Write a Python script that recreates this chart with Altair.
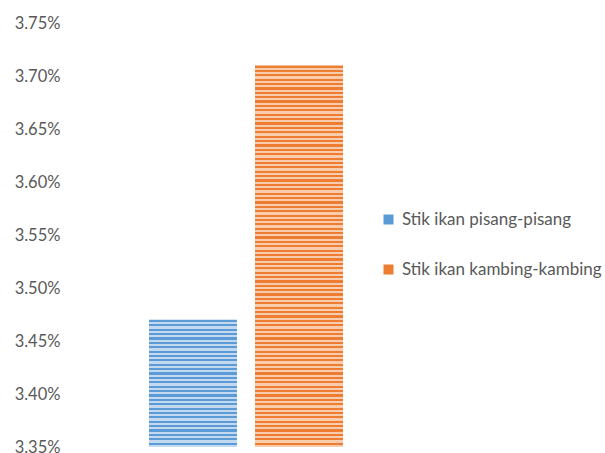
import altair as alt
import pandas as pd

series = ["Stik ikan pisang-pisang", "Stik ikan kambing-kambing"]
values = [0.0347, 0.0371]
colors = ["#5B9BD5", "#ED7D31"]
lights = ["#C3D9F0", "#F9CCAE"]
y_ticks = [0.0335, 0.0340, 0.0345, 0.0350, 0.0355, 0.0360, 0.0365, 0.0370, 0.0375]

df = pd.DataFrame({"series": series, "value": values})

Y_MIN, Y_MAX = 0.0335, 0.0375
PLOT_H = 424
PERIOD_PX = 4.4


def stripes(dark, light, value):
    h = (value - Y_MIN) / (Y_MAX - Y_MIN) * PLOT_H
    n = max(1, round(h / PERIOD_PX))
    stops = []
    for i in range(n):
        a = i / n
        m = (i + 0.5) / n
        b = (i + 1) / n
        stops += [
            alt.GradientStop(offset=a, color=dark),
            alt.GradientStop(offset=m, color=dark),
            alt.GradientStop(offset=m, color=light),
            alt.GradientStop(offset=b, color=light),
        ]
    return alt.LinearGradient(gradient="linear", stops=stops, x1=0, x2=0, y1=0, y2=1)


x_enc = alt.X(
    "series:N",
    axis=None,
    scale=alt.Scale(domain=series, paddingInner=0.17, paddingOuter=0.698),
)
y_enc = alt.Y(
    "value:Q",
    scale=alt.Scale(domain=[Y_MIN, Y_MAX], nice=False, zero=False),
    axis=alt.Axis(
        values=y_ticks,
        format=".2%",
        title=None,
        grid=False,
        domain=False,
        ticks=False,
        tickSize=0,
        labelPadding=15,
        labelFont="Lato",
        labelFontSize=16.5,
        labelColor="#595959",
    ),
)

base = alt.Chart(df)

legend_layer = base.mark_bar(opacity=0).encode(
    x=x_enc,
    y=y_enc,
    y2=alt.datum(Y_MIN),
    color=alt.Color(
        "series:N",
        scale=alt.Scale(domain=series, range=colors),
        legend=alt.Legend(
            title=None,
            orient="none",
            legendX=305,
            legendY=188,
            padding=0,
            symbolType="square",
            symbolSize=100,
            symbolOpacity=1,
            symbolStrokeWidth=0,
            labelFont="Lato",
            labelFontSize=17,
            labelColor="#595959",
            labelOffset=5,
            labelLimit=300,
            rowPadding=32,
        ),
    ),
)

layers = [legend_layer]
for s, v, c, l in zip(series, values, colors, lights):
    layers.append(
        base.transform_filter(alt.datum.series == s)
        .mark_bar(fill=stripes(c, l, v))
        .encode(x=x_enc, y=alt.Y("value:Q"), y2=alt.datum(Y_MIN))
    )

chart = (
    alt.layer(*layers)
    .properties(
        width=342,
        height=PLOT_H,
        padding={"left": 75, "top": 23, "right": 188, "bottom": 6},
        autosize=alt.AutoSizeParams(type="none"),
    )
    .configure_view(stroke=None)
)

chart.save("out.html", embed_options={"renderer": "svg", "actions": False})
